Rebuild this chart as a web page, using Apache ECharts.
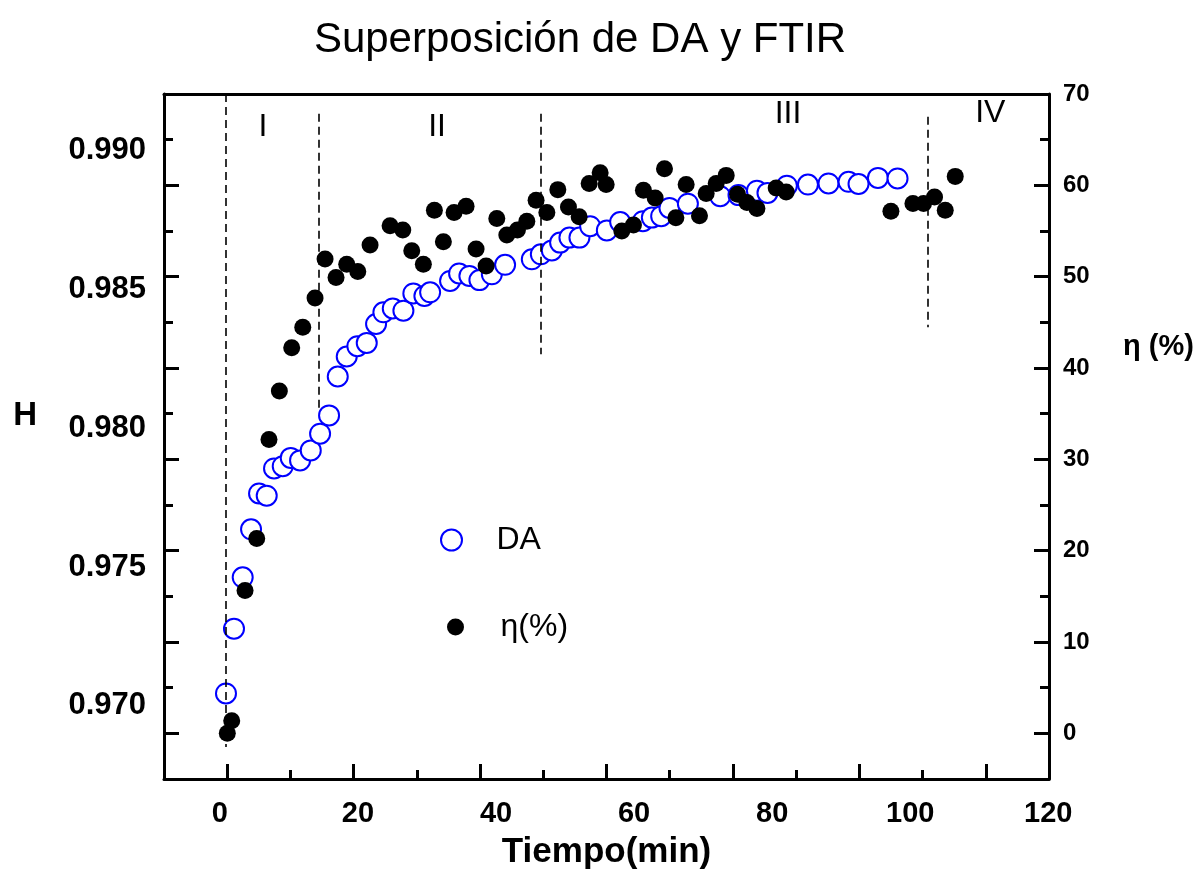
<!DOCTYPE html>
<html>
<head>
<meta charset="utf-8">
<script src="https://cdn.jsdelivr.net/npm/echarts@6/dist/echarts.min.js"></script>
<style>
  html, body { margin: 0; padding: 0; background: #fff; }
  #chart { width: 1201px; height: 875px; }
</style>
</head>
<body>
<div id="chart"></div>
<script>
// ---- data ----
const daTime = [0.88, 2.04, 3.30, 4.51, 5.67, 6.78, 7.84, 9.10, 10.26, 11.61, 13.16, 14.51, 15.81, 17.07, 18.37, 19.91, 21.27, 22.62, 23.68, 25.04, 26.58, 28.02, 29.62, 30.45, 33.34, 34.65, 36.14, 37.59, 39.39, 41.31, 45.18, 46.49, 48.08, 49.28, 50.63, 52.08, 53.63, 56.05, 57.98, 61.27, 62.57, 63.92, 65.12, 67.79, 72.47, 75.12, 77.79, 79.32, 82.13, 85.18, 88.16, 91.06, 92.51, 95.32, 98.16];
const daH = [0.97045, 0.97278, 0.97463, 0.97636, 0.97765, 0.97757, 0.97855, 0.97863, 0.97893, 0.97884, 0.97920, 0.97980, 0.98046, 0.98186, 0.98258, 0.98295, 0.98307, 0.98375, 0.98417, 0.98431, 0.98423, 0.98485, 0.98476, 0.98489, 0.98530, 0.98557, 0.98548, 0.98533, 0.98554, 0.98588, 0.98608, 0.98626, 0.98640, 0.98668, 0.98686, 0.98686, 0.98727, 0.98712, 0.98742, 0.98745, 0.98758, 0.98763, 0.98793, 0.98808, 0.98835, 0.98839, 0.98855, 0.98847, 0.98873, 0.98877, 0.98881, 0.98887, 0.98879, 0.98901, 0.98899];

const etaTime = [1.07, 1.71, 3.64, 5.33, 7.11, 8.61, 10.40, 12.00, 13.78, 15.23, 16.82, 18.37, 19.97, 21.75, 24.65, 26.49, 27.79, 29.47, 31.07, 32.37, 33.92, 35.66, 37.11, 38.56, 40.11, 41.56, 43.10, 44.46, 45.80, 47.36, 48.95, 50.49, 52.04, 53.49, 55.08, 55.95, 58.22, 59.90, 61.35, 63.05, 64.40, 66.05, 67.54, 69.47, 70.44, 71.89, 73.34, 74.98, 76.34, 77.79, 80.58, 82.03, 97.20, 100.39, 101.93, 103.52, 105.07, 106.52];
const etaVal = [0.0, 1.38, 15.65, 21.34, 32.16, 37.49, 42.22, 44.46, 47.66, 51.94, 49.91, 51.37, 50.56, 53.47, 55.57, 55.10, 52.85, 51.37, 57.28, 53.83, 57.03, 57.72, 53.03, 51.18, 56.38, 54.56, 55.10, 56.08, 58.37, 57.03, 59.53, 57.64, 56.55, 60.19, 61.38, 60.08, 54.99, 55.65, 59.46, 58.62, 61.82, 56.44, 60.08, 56.66, 59.10, 60.19, 61.09, 59.02, 58.12, 57.46, 59.71, 59.27, 57.17, 58.01, 58.01, 58.73, 57.28, 60.98];

// tick labels
const xLabels = [0, 20, 40, 60, 80, 100, 120];
const hLabels = [0.970, 0.975, 0.980, 0.985, 0.990];
const etaLabels = [0, 10, 20, 30, 40, 50, 60, 70];
// frame tick marks (frame scale)
const xMajorTicks = [0, 20, 40, 60, 80, 100, 120];
const xMinorTicks = [10, 30, 50, 70, 90, 110];
const yMajorTicks = [0, 10, 20, 30, 40, 50, 60];
const yMinorTicks = [5, 15, 25, 35, 45, 55, 65];

// region separators and names
const regionX = [0.88, 14.35, 46.5, 102.56];
const regionTop = [70, 67.84, 67.84, 67.5];
const regionBottom = [-1.5, 35.28, 41.5, 44.47];
const regionNames = ['I', 'II', 'III', 'IV'];
const regionNameX = [6.25, 31.46, 82.3, 111.6];
const regionNameY = [66.4, 66.4, 67.8, 67.9];

const FONT = "'Liberation Sans', Arial, sans-serif";

const chart = echarts.init(document.getElementById('chart'), null, { renderer: 'canvas' });

function tickAxis(min, max, position, values, length) {
  return {
    type: 'value', min: min, max: max, position: position,
    axisLine: { show: false, onZero: false },
    axisLabel: { show: false }, splitLine: { show: false },
    axisTick: { show: true, inside: true, customValues: values, length: length, lineStyle: { color: '#000', width: 3 } }
  };
}

const option = {
  animation: false,
  backgroundColor: '#fff',
  title: {
    text: 'Superposición de DA y FTIR',
    left: 575, top: 14, textAlign: 'center',
    textStyle: { fontFamily: FONT, fontSize: 42, fontWeight: 'normal', color: '#000' }
  },
  legend: [
    {
      data: ['DA'], left: 440, top: 524, itemWidth: 80, itemHeight: 21, padding: 0,
      textStyle: { fontFamily: FONT, fontSize: 32, color: '#000' }
    },
    {
      data: ['η(%)'], left: 447, top: 611, itemWidth: 80, itemHeight: 17, padding: 0,
      textStyle: { fontFamily: FONT, fontSize: 32, color: '#000' }
    }
  ],
  grid: { left: 164, right: 152, top: 94, bottom: 93, containLabel: false },
  xAxis: [
    {
      type: 'value', min: -8.1, max: 120.1, position: 'bottom',
      axisLine: { show: true, onZero: false, lineStyle: { color: '#000', width: 3 } },
      axisTick: { show: false }, splitLine: { show: false },
      axisLabel: { customValues: xLabels, margin: 20, fontFamily: FONT, fontSize: 29, fontWeight: 'bold', color: '#000' },
      name: 'Tiempo(min)', nameLocation: 'middle', nameGap: 56,
      nameTextStyle: { fontFamily: FONT, fontSize: 35, fontWeight: 'bold', color: '#000' }
    },
    tickAxis(-10, 130, 'bottom', xMajorTicks, 15),
    tickAxis(-10, 130, 'bottom', xMinorTicks, 9),
    {
      type: 'value', min: -10, max: 130, position: 'top',
      axisLine: { show: true, onZero: false, lineStyle: { color: '#000', width: 3 } },
      axisTick: { show: false }, axisLabel: { show: false }, splitLine: { show: false }
    }
  ],
  yAxis: [
    {
      type: 'value', min: 0.96737, max: 0.99203, position: 'left',
      axisLine: { show: true, onZero: false, lineStyle: { color: '#000', width: 3 } },
      axisTick: { show: false }, splitLine: { show: false },
      axisLabel: { customValues: hLabels, margin: 18, formatter: v => v.toFixed(3), fontFamily: FONT, fontSize: 31, fontWeight: 'bold', color: '#000' },
      name: 'H', nameLocation: 'middle', nameRotate: 0, nameGap: 127,
      nameTextStyle: { fontFamily: FONT, fontSize: 33, fontWeight: 'bold', color: '#000', verticalAlign: 'bottom', lineHeight: 42 }
    },
    {
      type: 'value', min: -5, max: 70, position: 'right',
      axisLine: { show: true, onZero: false, lineStyle: { color: '#000', width: 3 } },
      axisTick: { show: false }, splitLine: { show: false },
      axisLabel: { customValues: etaLabels, margin: 14, fontFamily: FONT, fontSize: 24, fontWeight: 'bold', color: '#000' },
      name: 'η (%)', nameLocation: 'middle', nameRotate: 0, nameGap: 74,
      nameTextStyle: { fontFamily: FONT, fontSize: 29, fontWeight: 'bold', color: '#000', verticalAlign: 'bottom', lineHeight: 180 }
    },
    tickAxis(-5, 70, 'right', yMajorTicks, 15),
    tickAxis(-5, 70, 'right', yMinorTicks, 9),
    tickAxis(-5, 70, 'left', yMajorTicks, 15),
    tickAxis(-5, 70, 'left', yMinorTicks, 9)
  ],
  series: [
    {
      name: 'DA', type: 'scatter', xAxisIndex: 0, yAxisIndex: 0,
      data: daTime.map((t, i) => [t, daH[i]]),
      symbol: 'emptyCircle', symbolSize: 20,
      itemStyle: { color: '#0000ff', borderColor: '#0000ff', borderWidth: 1.6, opacity: 1 },
      z: 2
    },
    {
      name: 'η(%)', type: 'scatter', xAxisIndex: 0, yAxisIndex: 1,
      data: etaTime.map((t, i) => [t, etaVal[i]]),
      symbol: 'circle', symbolSize: 17,
      itemStyle: { color: '#000', opacity: 1 },
      z: 3,
      markLine: {
        silent: true, symbol: ['none', 'none'], label: { show: false },
        lineStyle: { color: '#000', type: [8, 5], width: 1.6 },
        data: regionX.map((x, i) => [{ coord: [x, regionTop[i]] }, { coord: [x, regionBottom[i]] }])
      },
      markPoint: {
        silent: true, symbol: 'circle', symbolSize: 1,
        itemStyle: { color: 'rgba(0,0,0,0)' },
        label: { show: true, position: 'inside', formatter: p => p.name, fontFamily: FONT, fontSize: 32, color: '#000' },
        data: regionNames.map((n, i) => ({ name: n, coord: [regionNameX[i], regionNameY[i]] }))
      }
    }
  ]
};

chart.setOption(option);
</script>
</body>
</html>
